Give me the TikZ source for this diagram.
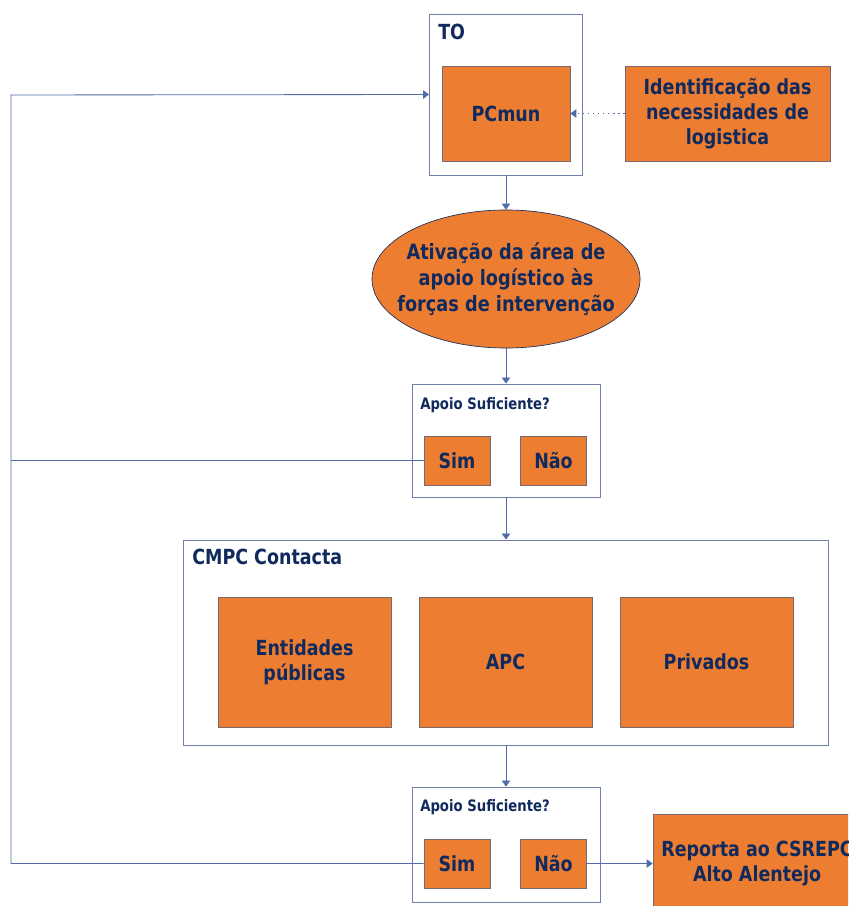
\documentclass[tikz,border=0pt]{standalone}
\usepackage{fontspec}
\setmainfont{DejaVu Sans}[FakeStretch=0.84]
\usepackage{xcolor}
\usetikzlibrary{arrows.meta,positioning,shapes.geometric}
\definecolor{boxorange}{HTML}{ED7D31}
\definecolor{boxedge}{HTML}{7A6A70}
\definecolor{navytext}{HTML}{112A5E}
\definecolor{linkblue}{HTML}{4F6CA6}
\definecolor{framegray}{HTML}{6F7FAA}

\begin{document}
\begin{tikzpicture}[
  x=0.025cm,y=-0.025cm,
  flow/.style={-{Triangle[length=1.5mm,width=2.1mm]},draw=linkblue,line width=0.6pt},
  link/.style={draw=linkblue,line width=0.6pt},
  frame box/.style={draw=framegray,line width=0.6pt,fill=white,inner sep=0pt},
  orange box/.style={draw=boxedge,fill=boxorange,line width=0.45pt,align=center,
    text=navytext,font=\fontsize{14.8}{17.8}\selectfont\bfseries,inner sep=0pt},
  choice box/.style={orange box,minimum width=1.65cm,minimum height=1.225cm},
  group box/.style={orange box,minimum width=4.325cm,minimum height=3.25cm},
  heading/.style={anchor=west,text=navytext,inner sep=0pt,
    font=\fontsize{14.8}{17}\selectfont\bfseries},
  small heading/.style={anchor=west,text=navytext,inner sep=0pt,
    font=\fontsize{11.2}{12}\selectfont\bfseries}
]
\clip (0,0) rectangle (848,906);

% TO frame with PCmun and the needs box.
\node[frame box,minimum width=3.825cm,minimum height=4.025cm] (to) at (506,94.5) {};
\node[heading] (to-label) at (438,32) {TO};
\node[orange box,minimum width=3.2cm,minimum height=2.375cm] (pcmun) at (506,113.5) {PCmun};
\node[orange box,minimum width=5.125cm,minimum height=2.375cm] (needs) at (727.5,113.5)
  {Identificação das\\necessidades de\\logistica};
\draw[flow,dash pattern=on 1pt off 2.6pt,line width=0.8pt] (needs.west) -- (pcmun.east);

% Activation of the logistics area.
\node[ellipse,draw=navytext,fill=boxorange,line width=0.45pt,minimum width=6.7cm,
  minimum height=3.45cm,inner xsep=-0.45cm,inner ysep=0pt,align=center,text=navytext,
  font=\fontsize{15}{18.5}\selectfont\bfseries] (area) at (506,279)
  {Ativação da área de\\apoio logístico às\\forças de intervenção};
\draw[flow] (to.south) -- (area.north);

% First check.
\node[frame box,minimum width=4.7cm,minimum height=2.825cm] (check-a) at (506,440.5) {};
\node[small heading] (check-a-label) at (420,405) {Apoio Suficiente?};
\node[choice box] (sim-a) at (457,460.5) {Sim};
\node[choice box] (nao-a) at (553.5,460.5) {Não};
\draw[flow] (area.south) -- (check-a.north);

% CMPC contacts.
\node[frame box,minimum width=16.125cm,minimum height=5.125cm] (cmpc) at (506,642.5) {};
\node[heading] (cmpc-label) at (192,557) {CMPC Contacta};
\node[group box] (publicas) at (304.5,662) {Entidades\\públicas};
\node[group box] (apc) at (505.5,662) {APC};
\node[group box] (privados) at (706.5,662) {Privados};
\draw[flow] (check-a.south) -- (cmpc.north);

% Second check and report.
\node[frame box,minimum width=4.7cm,minimum height=2.875cm] (check-b) at (506,844.5) {};
\node[small heading] (check-b-label) at (420,807) {Apoio Suficiente?};
\node[choice box] (sim-b) at (457,863.5) {Sim};
\node[choice box] (nao-b) at (553.5,863.5) {Não};
\node[orange box,minimum width=5.2cm,minimum height=2.45cm] (report) at (757,863.5)
  {Reporta ao CSREPC\\Alto Alentejo};
\draw[flow] (cmpc.south) -- (check-b.north);
\draw[flow] (nao-b.east) -- (report.west);

% Return loop to TO.
\coordinate (loop) at (11,95);
\draw[flow] (sim-b.west) -| (loop) -- (to.west);
\draw[link] (sim-a.west) -- (sim-a.west -| loop);

\end{tikzpicture}
\end{document}
